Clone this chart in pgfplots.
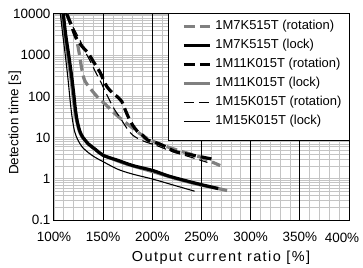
\documentclass[border=0pt]{standalone}
\usepackage{fontspec}
\setmainfont{Liberation Sans}
\usepackage{pgfplots}
\pgfplotsset{compat=1.18}
\definecolor{cgray}{RGB}{128,128,128}
\definecolor{gridgray}{RGB}{196,196,196}
\begin{document}
\begin{tikzpicture}
\begin{axis}[
 width=295bp, height=206bp, scale only axis,
 xmin=100, xmax=400, ymin=0.1, ymax=10000, ymode=log,
 xtick={100,150,200,250,300,350,400},
 xticklabels={100\%,150\%,200\%,250\%,300\%,350\%,{}},
 minor x tick num=4,
 ytick={0.1,1,10,100,1000,10000},
 yticklabels={0.1,1,10,100,1000,10000},
 minor ytick={0.2,0.3,0.4,0.5,0.6,0.7,0.8,0.9,2,3,4,5,6,7,8,9,20,30,40,50,60,70,80,90,200,300,400,500,600,700,800,900,2000,3000,4000,5000,6000,7000,8000,9000},
 grid=both,
 major grid style={gridgray, line width=0.8bp},
 minor grid style={gridgray, line width=0.8bp},
 major tick length=0pt, minor tick length=0pt,
 extra x ticks={150,200,250,300,350},
 extra x tick labels={},
 extra x tick style={grid=major, major grid style={black, line width=0.7bp}},
 axis line style={black, line width=1bp},
 tick label style={font=\fontsize{13.5}{15}\selectfont},
 xticklabel style={yshift=-9bp},
 clip=true,
 legend cell align=left,
 legend image code/.code={\draw[#1] (0bp,0bp) -- (26bp,0bp); \path (30bp,0bp);},
 legend style={draw=none, fill=none, at={(axis description cs:0.434,0.97)}, anchor=north west,
   row sep=7bp, inner sep=0pt, nodes={inner sep=0pt, text height=9.5bp, text depth=2.5bp, font=\fontsize{13}{15}\selectfont}},
]
% 1M11K015T lock (gray thick)
\addplot[forget plot, cgray, line width=3.2bp, smooth, tension=0.5] coordinates {
(108.5,10000) (111,3000) (114,1000) (117,300) (119,120) (121,50) (123,26) (125.5,15) (128.5,10.5) (135,7) (142,5.1) (150,3.8) (165,2.7) (180,2.05) (200,1.5) (228,0.95) (250,0.7) (267,0.58) (276,0.52)};
% 1M15K015T lock (thin)
\addplot[forget plot, black, line width=1.1bp, smooth, tension=0.5] coordinates {
(106.5,10000) (109,3000) (111.5,1000) (114,300) (116,100) (117.5,46) (119,25) (121,14) (124,9) (128.5,6) (135,4.3) (142,3.3) (150,2.6) (165,1.7) (180,1.3) (200,0.99) (220,0.72) (243,0.5)};
% 1M7K515T lock (black thick)
\addplot[forget plot, black, line width=3.2bp, smooth, tension=0.5] coordinates {
(109.5,10000) (112,3000) (115,1000) (118,300) (120,120) (121.7,50) (123.5,26) (126,15) (129,10.5) (135,7) (142,5.2) (150,3.7) (165,2.8) (180,2.1) (200,1.6) (215,1.2) (228,0.98) (250,0.72) (267,0.58)};
% 1M7K515T rotation (gray dashed thick)
\addplot[forget plot, cgray, line width=3.2bp, dash pattern=on 11bp off 5bp, smooth, tension=0.5] coordinates {
(113,10000) (117,6000) (123,2300) (126,1000) (128,500) (131,250) (137,155) (145,92) (152,65) (160,42) (167,30) (174,22) (180,17) (187,12.6) (198,8.7) (211,6.5) (225,5) (240,3.9) (250,3.3) (260,2.6) (269,2.1)};
% 1M11K015T rotation (black dashed thick)
\addplot[forget plot, black, line width=3.2bp, dash pattern=on 11bp off 5bp, smooth, tension=0.5] coordinates {
(113,10000) (118,5000) (122,2800) (128,1700) (135,1100) (140,700) (147,380) (150,260) (154,170) (159,125) (164,100) (169,75) (172,50) (176,30) (180,20) (185,14) (190,11.5) (195,8.8) (206,7.2) (215,5.8) (223,4.6) (240,3.8) (250,3.4) (261,3.0)};
% 1M15K015T rotation (thin dashed)
\addplot[forget plot, black, line width=1.1bp, dash pattern=on 10bp off 5bp, smooth, tension=0.5] coordinates {
(112,10000) (114,8000) (120,4500) (126.4,2300) (131,1300) (136.6,740) (142,400) (146.8,245) (151,150) (155,95) (158.5,65) (162,46) (167,31) (174,17) (180,11.5) (189.5,8.5) (206,6.2) (220,4.6) (240,3.3) (256,2.5)};
\draw[black, line width=1bp, fill=white] (axis description cs:0.3898,0.3883) rectangle (axis description cs:1,1);
\addlegendimage{cgray, line width=3.2bp, dash pattern=on 11bp off 5bp}
\addlegendentry{1M7K515T (rotation)}
\addlegendimage{black, line width=3.2bp}
\addlegendentry{1M7K515T (lock)}
\addlegendimage{black, line width=3.2bp, dash pattern=on 11bp off 5bp}
\addlegendentry{1M11K015T (rotation)}
\addlegendimage{cgray, line width=3.2bp}
\addlegendentry{1M11K015T (lock)}
\addlegendimage{black, line width=1.1bp, dash pattern=on 10bp off 5bp}
\addlegendentry{1M15K015T (rotation)}
\addlegendimage{black, line width=1.1bp}
\addlegendentry{1M15K015T (lock)}
\coordinate (bl) at (rel axis cs:0,0);
\coordinate (tr) at (rel axis cs:1,1);
\end{axis}
\node[font=\fontsize{13.5}{15}\selectfont, anchor=north, inner sep=0pt] at ([xshift=288bp,yshift=-13.2bp]bl) {400\%};
\node[font=\fontsize{14.5}{16}\selectfont\addfontfeature{LetterSpace=10}] at ([xshift=167bp,yshift=-38bp]bl) {Output current ratio [\%]};
\node[font=\fontsize{13.5}{15}\selectfont, rotate=90] at ([xshift=-39bp,yshift=97bp]bl) {Detection time [s]};
\node[font=\fontsize{13.5}{15}\selectfont, anchor=east] at ([xshift=-50bp,yshift=-18bp]bl) {\%};
\pgfresetboundingbox
\path[use as bounding box] ([xshift=-54bp,yshift=-48bp]bl) rectangle ([xshift=14bp,yshift=14bp]tr);
\end{tikzpicture}
\end{document}
